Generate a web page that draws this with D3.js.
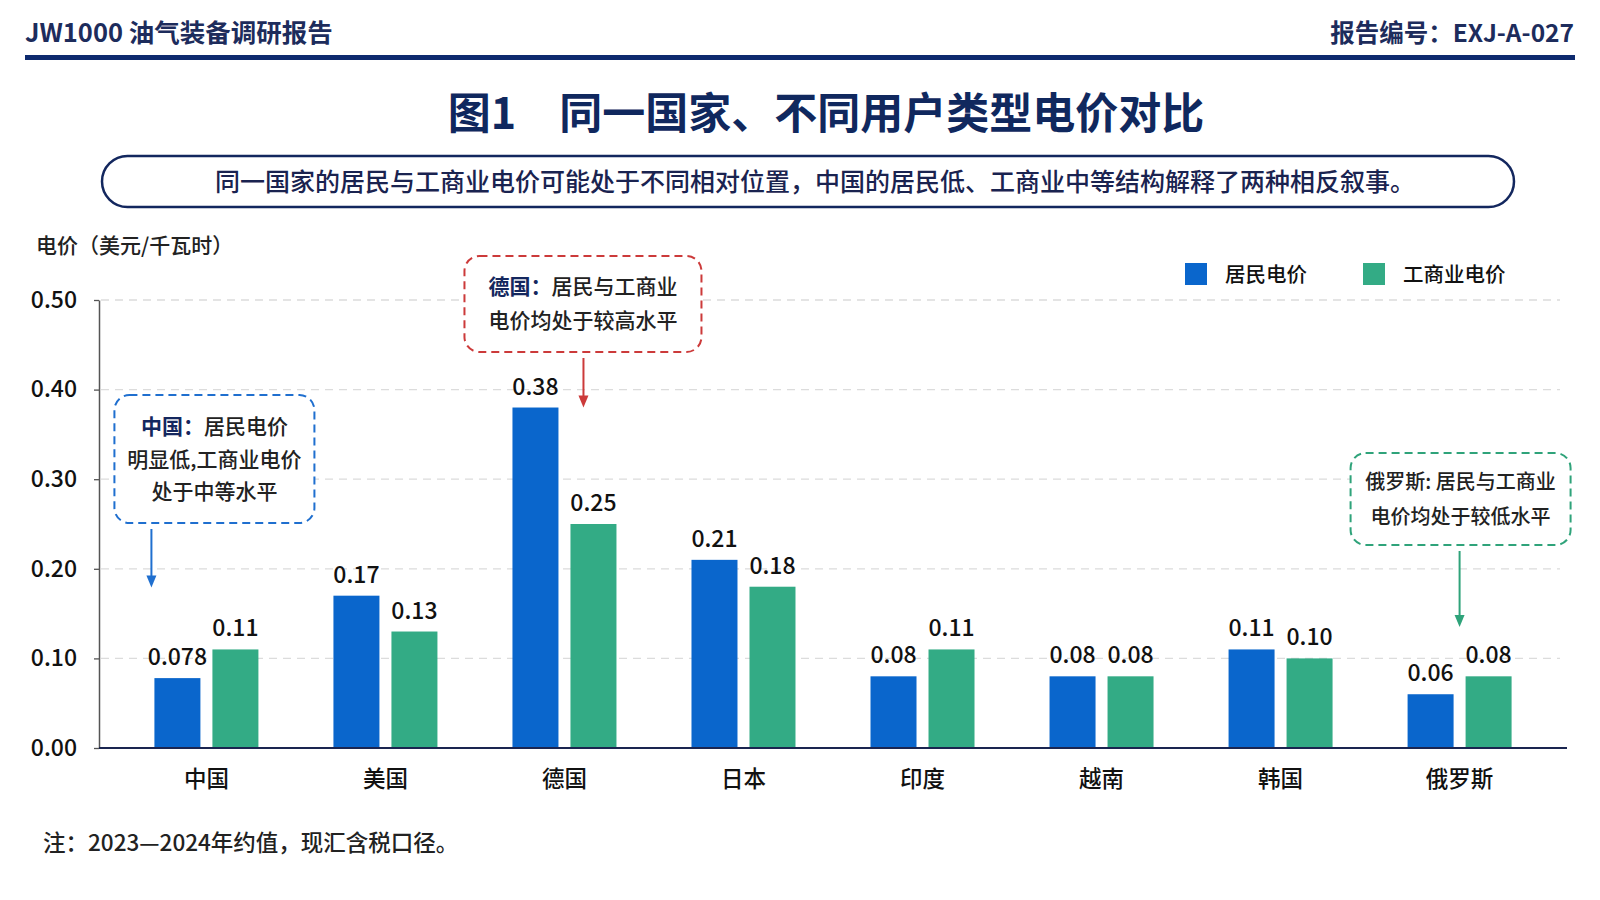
<!DOCTYPE html>
<html>
<head>
<meta charset="utf-8">
<script src="https://cdn.jsdelivr.net/npm/d3@7"></script>
<style>
  body { margin: 0; background: #fff; }
  svg { display: block; font-family: "Noto Sans CJK SC", "Noto Sans", sans-serif; }
</style>
</head>
<body>
<div id="chart"></div>
<script>
// données
const categories = ["中国", "美国", "德国", "日本", "印度", "越南", "韩国", "俄罗斯"];
const residential = [0.078, 0.17, 0.38, 0.21, 0.08, 0.08, 0.11, 0.06];
const industrial = [0.11, 0.13, 0.25, 0.18, 0.11, 0.08, 0.10, 0.08];
const seriesNames = ["居民电价", "工商业电价"];
const yTicks = [0, 0.1, 0.2, 0.3, 0.4, 0.5];

const width = 1600;
const height = 900;
const navy = "#13275e";
const colors = { "居民电价": "#0a66cc", "工商业电价": "#33ab85" };

const svg = d3.select("#chart").append("svg").attr("width", width).attr("height", height);

// en-tête
svg.append("text").attr("x", 25).attr("y", 41.5)
    .attr("font-size", 25.5).attr("font-weight", 700).attr("fill", "#1d2c5c")
    .text("JW1000 油气装备调研报告");
svg.append("text").attr("x", 1574).attr("y", 41.5).attr("text-anchor", "end")
    .attr("font-size", 24.5).attr("font-weight", 700).attr("fill", "#1d2c5c")
    .text("报告编号：EXJ-A-027");
svg.append("rect").attr("x", 25).attr("y", 55).attr("width", 1550).attr("height", 5).attr("fill", "#0e2a6e");

svg.append("text").attr("x", 826).attr("y", 129).attr("text-anchor", "middle")
    .attr("font-size", 43).attr("font-weight", 700).attr("fill", "#10285e")
    .text("图1　同一国家、不同用户类型电价对比");

svg.append("rect").attr("x", 102).attr("y", 156).attr("width", 1412).attr("height", 51)
    .attr("rx", 25.5).attr("fill", "#fff").attr("stroke", navy).attr("stroke-width", 2.5);
svg.append("text").attr("x", 815).attr("y", 190.5).attr("text-anchor", "middle")
    .attr("font-size", 25).attr("font-weight", 500).attr("fill", "#1a2350")
    .text("同一国家的居民与工商业电价可能处于不同相对位置，中国的居民低、工商业中等结构解释了两种相反叙事。");

// échelles
const x = d3.scaleBand().domain(categories).range([99, 1567]).paddingOuter(0.1).paddingInner(0);
const x1 = d3.scaleBand().domain(seriesNames).range([-52, 52]).paddingInner(0.207);
const y = d3.scaleLinear().domain([0, 0.5]).range([748, 300]);
const cx = c => x(c) + x.bandwidth() / 2;

// grille
svg.append("g").selectAll("line")
    .data(yTicks.filter(d => d > 0))
    .enter().append("line")
    .attr("x1", 101).attr("x2", 1560)
    .attr("y1", d => y(d)).attr("y2", d => y(d))
    .attr("stroke", "#dcdcdc").attr("stroke-width", 1.3).attr("stroke-dasharray", "8 6");

// axe Y
const yAxis = svg.append("g").attr("transform", "translate(99,0)")
    .call(d3.axisLeft(y).tickValues(yTicks).tickFormat(d3.format(".2f")).tickSize(5).tickSizeOuter(0).tickPadding(17));
yAxis.select(".domain").attr("stroke", "#555").attr("stroke-width", 1.5);
yAxis.selectAll(".tick line").attr("stroke", "#555").attr("stroke-width", 1.3);
yAxis.selectAll("text").attr("font-size", 23).attr("font-weight", 500).attr("fill", "#111").attr("font-family", "Noto Sans CJK SC");

svg.append("text").attr("x", 36).attr("y", 253)
    .attr("font-size", 21).attr("font-weight", 500).attr("fill", "#222")
    .text("电价（美元/千瓦时）");

// barres
const rows = categories.map((c, i) => ({ country: c, values: [
    { key: seriesNames[0], value: residential[i] },
    { key: seriesNames[1], value: industrial[i] }
] }));

const fmt = v => Math.abs(v * 100 - Math.round(v * 100)) < 1e-9 ? v.toFixed(2) : v.toFixed(3);

const groups = svg.append("g").selectAll("g")
    .data(rows).enter().append("g")
    .attr("transform", d => `translate(${cx(d.country)},0)`);

groups.selectAll("rect")
    .data(d => d.values).enter().append("rect")
    .attr("x", d => x1(d.key))
    .attr("width", x1.bandwidth())
    .attr("y", d => y(d.value))
    .attr("height", d => y(0) - y(d.value))
    .attr("fill", d => colors[d.key]);

groups.selectAll("text.val")
    .data(d => d.values).enter().append("text")
    .attr("class", "val")
    .attr("x", d => x1(d.key) + x1.bandwidth() / 2)
    .attr("y", d => y(d.value) - 13)
    .attr("text-anchor", "middle")
    .attr("font-size", 23).attr("font-weight", 500).attr("fill", "#111")
    .text(d => fmt(d.value));

// axe X
svg.append("line").attr("x1", 99).attr("x2", 1567).attr("y1", y(0)).attr("y2", y(0))
    .attr("stroke", "#1a2550").attr("stroke-width", 2);
const xAxis = svg.append("g").attr("transform", `translate(0,${y(0)})`)
    .call(d3.axisBottom(x).tickSize(0).tickPadding(23));
xAxis.select(".domain").remove();
xAxis.selectAll("text").attr("font-size", 22.5).attr("font-weight", 500).attr("fill", "#111").attr("font-family", "Noto Sans CJK SC");

// légende
const legend = svg.append("g").selectAll("g")
    .data(seriesNames).enter().append("g")
    .attr("transform", (d, i) => `translate(${1185 + i * 178},263)`);
legend.append("rect").attr("width", 22).attr("height", 22).attr("fill", d => colors[d]);
legend.append("text").attr("x", 40).attr("y", 18.5)
    .attr("font-size", 20.5).attr("font-weight", 500).attr("fill", "#111").text(d => d);

// annotations
function callout(o) {
    const g = svg.append("g");
    g.append("rect").attr("x", o.x).attr("y", o.y).attr("width", o.w).attr("height", o.h)
        .attr("rx", 15).attr("fill", "#fff")
        .attr("stroke", o.color).attr("stroke-width", 2).attr("stroke-dasharray", "8 5");
    o.lines.forEach((parts, i) => {
        const t = g.append("text").attr("x", o.x + o.w / 2).attr("y", o.y + o.first + i * o.lh)
            .attr("text-anchor", "middle").attr("font-size", o.fs).attr("fill", "#222").attr("font-weight", 500);
        parts.forEach(p => t.append("tspan").text(p.t)
            .attr("font-weight", p.b ? 700 : null).attr("fill", p.b ? "#14275e" : null));
    });
    g.append("line").attr("x1", o.ax).attr("x2", o.ax).attr("y1", o.y + o.h + 6).attr("y2", o.tip - 10)
        .attr("stroke", o.color).attr("stroke-width", 2);
    g.append("path")
        .attr("d", `M${o.ax - 5},${o.tip - 12}L${o.ax + 5},${o.tip - 12}L${o.ax},${o.tip}Z`)
        .attr("fill", o.color);
}

callout({
    x: cx("中国") + 8 - 100, y: 395, w: 200, h: 128, color: "#1f6fcf", fs: 21, first: 39, lh: 32.5,
    lines: [[{ t: "中国：", b: true }, { t: "居民电价" }], [{ t: "明显低,工商业电价" }], [{ t: "处于中等水平" }]],
    ax: cx("中国") - 55, tip: y(0.179)
});
callout({
    x: cx("德国") + 18.5 - 118.5, y: 256, w: 237, h: 96, color: "#cc3a3a", fs: 21, first: 38, lh: 33.5,
    lines: [[{ t: "德国：", b: true }, { t: "居民与工商业" }], [{ t: "电价均处于较高水平" }]],
    ax: cx("德国") + 19, tip: y(0.38)
});
callout({
    x: cx("俄罗斯") + 1 - 110, y: 453, w: 220, h: 92, color: "#2fa37a", fs: 20, first: 36, lh: 34.5,
    lines: [[{ t: "俄罗斯: 居民与工商业" }], [{ t: "电价均处于较低水平" }]],
    ax: cx("俄罗斯"), tip: y(0.135)
});

// note
svg.append("text").attr("x", 43).attr("y", 850.5)
    .attr("font-size", 22.5).attr("font-weight", 500).attr("fill", "#222")
    .text("注：2023—2024年约值，现汇含税口径。");
</script>
</body>
</html>
